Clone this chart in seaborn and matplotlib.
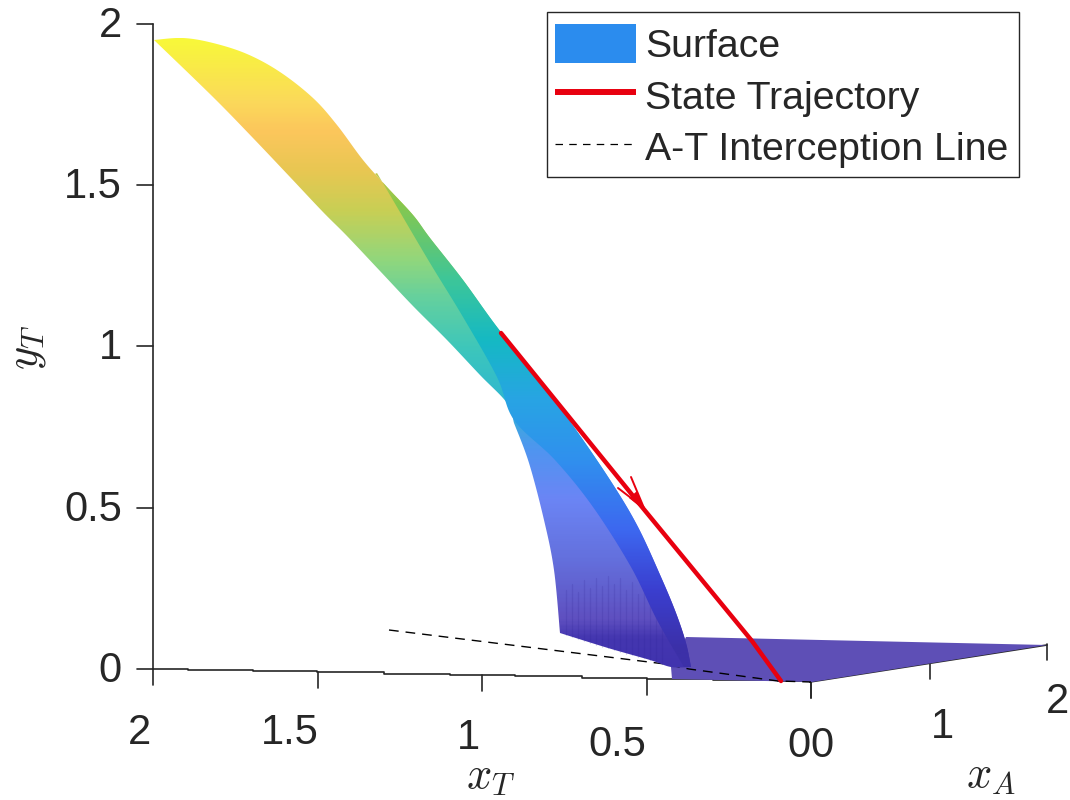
import numpy as np
import matplotlib
matplotlib.use('Agg')
import matplotlib.pyplot as plt
import seaborn as sns
from matplotlib.colors import LinearSegmentedColormap
from matplotlib.lines import Line2D
from matplotlib.patches import Patch, PathPatch, Rectangle
from matplotlib.path import Path

# all values, in projected screen units
top_edge_x = [154, 183, 213, 247, 280, 313, 337, 363, 387, 413, 430, 463, 497, 537, 574, 612, 638, 661, 676, 686, 691]
top_edge_y = [40, 38, 43, 54, 72, 98, 125, 160, 187, 215, 238, 280, 327, 377, 427, 483, 527, 577, 613, 643, 667]
flap_bottom_x = [691, 671, 650, 608, 560]
flap_bottom_y = [667, 667, 660, 648, 633]
flap_left_x = [560, 554, 544, 529, 514]
flap_left_y = [633, 570, 520, 463, 423]
low_edge_x = [514, 507, 480, 447, 413, 380, 347, 323, 290, 253, 213, 154]
low_edge_y = [423, 403, 375, 340, 306, 271, 236, 212, 177, 138, 97, 40]
ribbon_in_x = [684, 657, 631, 593, 555, 514, 497, 463, 430, 397, 377]
ribbon_in_y = [667, 620, 567, 507, 460, 420, 377, 317, 263, 207, 173]
plane_x = [686, 1047, 812, 672, 671]
plane_y = [637, 645, 682, 679, 667]

panel_stops = [38, 100, 130, 170, 210, 260, 300, 350, 400, 450, 500, 560, 620, 640, 682]
panel_colors = ['#f8f83a', '#fbd95a', '#fcc65c', '#e8c752', '#c8cf55', '#90d77d', '#62d0a0', '#3cc6bc',
                '#2fb8d0', '#4f95f0', '#6b85f5', '#6470dd', '#5f50c0', '#4436b0', '#3f32ad']
ribbon_stops = [160, 200, 280, 340, 400, 460, 530, 590, 650, 682]
ribbon_colors = ['#dcc94e', '#8ac84a', '#3cc69a', '#15b9c4', '#28a4e4', '#3090ee', '#3d68f0', '#3a3fd0', '#3c30a8', '#3c30a8']
plane_color = '#5e4fb6'

rib_x = [566, 572, 578, 584, 590, 596, 602, 608, 614, 620, 626, 632, 638, 644, 650, 656, 662]
rib_bottom = [635, 637, 639, 641, 643, 645, 647, 648, 650, 652, 654, 655, 657, 658, 660, 661, 663]
rib_top = [590, 584, 592, 580, 588, 578, 586, 576, 584, 578, 590, 582, 594, 590, 602, 610, 622]

traj_x = [501, 642, 752, 781]
traj_y = [333, 507, 641, 681]
arrow_x = [618, 644, 631]
arrow_y = [488, 508, 477]
arrow_core_x = [629, 637, 645]
arrow_core_y = [498, 491, 511]
intercept_x = [389, 665, 689, 778, 811]
intercept_y = [630, 664, 669, 681, 682]

xt_axis_x = [153, 188, 253, 317, 384, 450, 515, 582, 647, 713, 778, 810]
xt_axis_y = [669, 670, 671, 672, 674, 675, 676, 678, 679, 680, 681, 682]
xa_axis_x = [810, 1047]
xa_axis_y = [682, 645]

y_tick_pos = [24, 185, 346, 508, 669]
y_tick_labels = ['2', '1.5', '1', '0.5', '0']
xt_tick_x = [153, 318, 482, 647, 811]
xt_tick_y = [669, 672, 675, 679, 682]
xt_tick_labels = ['2', '1.5', '1', '0.5', '0']
xt_label_x = [140, 290, 468, 617, 799]
xt_label_y = [733, 733, 738, 745, 746]
xa_tick_x = [811, 930, 1047]
xa_tick_y = [682, 663, 644]
xa_tick_labels = ['0', '1', '2']
xa_label_x = [822, 942, 1058]
xa_label_y = [746, 727, 702]

sns.set_theme(style='white')
plt.rcParams['font.family'] = ['Liberation Sans', 'DejaVu Sans']
plt.rcParams['mathtext.fontset'] = 'cm'

axis_color = '#262626'
tick_size = 30

fig = plt.figure(figsize=(10.7, 8), dpi=100)
ax = fig.add_axes([0, 0, 1, 1])


def smooth(xs, ys, n=12):
    # catmull-rom through the read points, ends stay put
    p = np.column_stack([xs, ys]).astype(float)
    p = np.vstack([p[0], p, p[-1]])
    out = []
    for i in range(1, len(p) - 2):
        for t in np.linspace(0, 1, n, endpoint=False):
            out.append(0.5 * (2 * p[i] + (p[i + 1] - p[i - 1]) * t
                              + (2 * p[i - 1] - 5 * p[i] + 4 * p[i + 1] - p[i + 2]) * t ** 2
                              + (3 * p[i] - p[i - 1] - 3 * p[i + 1] + p[i + 2]) * t ** 3))
    out.append(p[-2])
    return np.array(out)


def gradient_fill(outline, stops, colors, z):
    # vertical colour ramp clipped to the outline
    lo, hi = stops[0], stops[-1]
    cmap = LinearSegmentedColormap.from_list('ramp', [((s - lo) / (hi - lo), c) for s, c in zip(stops, colors)])
    ramp = np.linspace(0, 1, 400).reshape(-1, 1)
    img = ax.imshow(ramp, cmap=cmap, extent=[0, 1070, hi, lo], aspect='auto', zorder=z, interpolation='bilinear')
    verts = np.vstack([outline, outline[:1]])
    clip = PathPatch(Path(verts, closed=True), transform=ax.transData, facecolor='none', edgecolor='none')
    ax.add_patch(clip)
    img.set_clip_path(clip)


# axes lines
sns.lineplot(x=[153, 153], y=[24, 669], ax=ax, color=axis_color, lw=1.2, estimator=None, sort=False, zorder=1)
sns.lineplot(x=xt_axis_x, y=xt_axis_y, ax=ax, color=axis_color, lw=1.2, estimator=None, sort=False,
             drawstyle='steps-post', zorder=1)
sns.lineplot(x=xa_axis_x, y=xa_axis_y, ax=ax, color=axis_color, lw=1.2, estimator=None, sort=False, zorder=1)

for p in y_tick_pos:
    ax.plot([137, 153], [p, p], color=axis_color, lw=1.2, zorder=1)
for tx, ty in zip(xt_tick_x, xt_tick_y):
    ax.plot([tx, tx], [ty, ty + 16], color=axis_color, lw=1.2, zorder=1)
for tx, ty in zip(xa_tick_x, xa_tick_y):
    ax.plot([tx, tx], [ty, ty + 16], color=axis_color, lw=1.2, zorder=1)

# surface
top = smooth(top_edge_x, top_edge_y)
panel = np.vstack([top, smooth(flap_bottom_x, flap_bottom_y)[1:], smooth(flap_left_x, flap_left_y)[1:],
                   smooth(low_edge_x, low_edge_y)[1:-1]])
ribbon = np.vstack([top[top[:, 1] >= 173], smooth(ribbon_in_x, ribbon_in_y)])

ax.fill(plane_x, plane_y, color=plane_color, lw=0, zorder=2)
sns.lineplot(x=intercept_x, y=intercept_y, ax=ax, color='black', lw=1.0, estimator=None, sort=False,
             linestyle=(0, (7, 5)), zorder=2.5)
gradient_fill(panel, panel_stops, panel_colors, 3)
gradient_fill(ribbon, ribbon_stops, ribbon_colors, 4)
for rx, rb, rt in zip(rib_x, rib_bottom, rib_top):
    ax.plot([rx, rx], [rb, rt], color='#2a2090', lw=0.9, alpha=0.16, zorder=3.5)

# state trajectory
sns.lineplot(x=traj_x, y=traj_y, ax=ax, color='#e8000f', lw=3.2, estimator=None, sort=False, zorder=6)
sns.lineplot(x=arrow_x, y=arrow_y, ax=ax, color='#e8000f', lw=1.4, estimator=None, sort=False, zorder=6)
ax.fill(arrow_core_x, arrow_core_y, color='#e8000f', lw=0, zorder=6)

# tick labels
for p, lab in zip(y_tick_pos, y_tick_labels):
    ax.text(122, p + 2, lab, ha='right', va='center', fontsize=tick_size, color=axis_color)
for tx, ty, lab in zip(xt_label_x, xt_label_y, xt_tick_labels):
    ax.text(tx, ty, lab, ha='center', va='center', fontsize=tick_size, color=axis_color)
for tx, ty, lab in zip(xa_label_x, xa_label_y, xa_tick_labels):
    ax.text(tx, ty, lab, ha='center', va='center', fontsize=tick_size, color=axis_color)

ax.text(491, 778, r'$x_T$', ha='center', va='center', fontsize=32, color=axis_color)
ax.text(991, 775, r'$x_A$', ha='center', va='center', fontsize=32, color=axis_color)
ax.text(27, 347, r'$y_T$', ha='center', va='center', fontsize=32, color=axis_color, rotation=90)

# legend box is separate so its height can follow the picture
ax.add_patch(Rectangle((547, 12), 472, 165, facecolor='white', edgecolor=axis_color, lw=1.0, zorder=9))
handles = [
    Patch(facecolor='#2b8cee', edgecolor='none', label='Surface'),
    Line2D([0], [0], color='#e8000f', lw=4.3, solid_capstyle='butt', label='State Trajectory'),
    Line2D([0], [0], color='black', lw=0.9, linestyle=(0, (6, 5)), label='A-T Interception Line'),
]
leg = ax.legend(handles=handles, loc='upper left', bbox_to_anchor=(545, 14), bbox_transform=ax.transData,
                borderaxespad=0, fontsize=28.3, frameon=False,
                handlelength=2.07, handleheight=1.17, handletextpad=0.23, labelspacing=0.27, borderpad=0.25)
leg.set_zorder(10)

ax.set_xlim(0, 1070)
ax.set_ylim(800, 0)
ax.axis('off')

fig.savefig('out.png', dpi=100)
